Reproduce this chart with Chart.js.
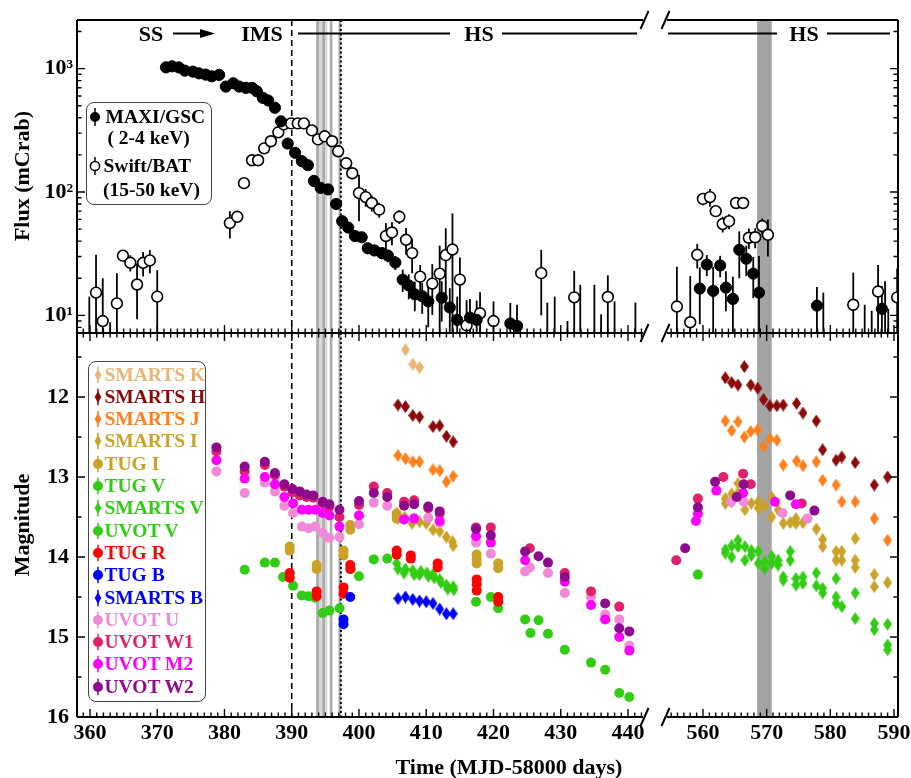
<!DOCTYPE html>
<html>
<head>
<meta charset="utf-8">
<title>X-ray flux and optical/UV magnitudes</title>
<script src="https://cdn.jsdelivr.net/npm/chart.js@4.4.1/dist/chart.umd.min.js"></script>
<style>
  html, body { margin: 0; padding: 0; background: #fff; }
  #wrap { position: relative; width: 911px; height: 778px; overflow: hidden;
    font-family: "Liberation Serif", "Times New Roman", serif; font-weight: bold; color: #000; }
  #wrap canvas { position: absolute; }
  .ttl { position: absolute; font-size: 22px; white-space: nowrap; line-height: 1; }
  .legend { position: absolute; box-sizing: border-box; border: 1.5px solid #444; border-radius: 8px; background: #fff; }
  .row { position: absolute; white-space: nowrap; font-size: 19.5px; line-height: 22px; height: 22px; }
  .mk { position: absolute; }
</style>
</head>
<body>
<div id="wrap">
  <canvas id="topLeft" width="655" height="333" style="left:0;top:0"></canvas>
  <canvas id="topRight" width="256" height="333" style="left:655px;top:0"></canvas>
  <canvas id="botLeft" width="655" height="445" style="left:0;top:333px"></canvas>
  <canvas id="botRight" width="256" height="445" style="left:655px;top:333px"></canvas>

  <svg width="911" height="778" style="position:absolute;left:0;top:0">
    <g font-family="Liberation Serif, Times New Roman, serif" font-weight="bold" font-size="22" text-anchor="middle">
      <text x="151" y="41">SS</text>
      <text x="262" y="41">IMS</text>
      <text x="479" y="41">HS</text>
      <text x="804" y="41">HS</text>
    </g>
    <g stroke="#000" stroke-width="2">
      <line x1="173" y1="33.5" x2="203" y2="33.5"/>
      <line x1="298" y1="33.5" x2="450" y2="33.5"/>
      <line x1="502" y1="33.5" x2="637" y2="33.5"/>
      <line x1="668" y1="33.5" x2="777" y2="33.5"/>
      <line x1="827" y1="33.5" x2="890" y2="33.5"/>
    </g>
    <polygon points="215,33.5 200,29 200,38" fill="#000"/>
  </svg>

  <div class="ttl" style="left:22px;top:176px;transform:translate(-50%,-50%) rotate(-90deg)">Flux (mCrab)</div>
  <div class="ttl" style="left:22px;top:525px;transform:translate(-50%,-50%) rotate(-90deg)">Magnitude</div>
  <div class="ttl" style="left:509px;top:767px;transform:translate(-50%,-50%)">Time (MJD-58000 days)</div>

  <div class="legend" id="legTop" style="left:86px;top:102px;width:126px;height:103px"></div>
  <div class="legend" id="legBot" style="left:88px;top:361px;width:118px;height:341px"></div>
</div>

<script>
// ---------- axis ranges (MJD-58000) ----------
const xLeft = [358.07, 442.23];
const xRight = [554.35, 590.63];
const fluxRange = [7.2, 2480];
const magRange = [11.2, 16];

// ---------- state markers ----------
const dashedDay = 390;
const dottedDay = 397.3;
const lightBand = [393.6, 395.3];
const grayLineDays = [393.85, 394.75, 395.85, 397.15];
const darkBand = [568.5, 570.8];

// ---------- MAXI/GSC 2-4 keV (mCrab) ----------
// the last entries sit below the axis; only their error bars show
const maxiDays = [371.3, 372.2, 373.2, 374.1, 375.3, 376.2, 377.2, 378.1, 379.2, 380.2,
  381.3, 382.2, 383.2, 384.1, 384.8, 385.7, 386.5, 387.5, 388.4, 389.4,
  390.5, 391.5, 392.4, 393.3, 394.3, 395.4, 396.6, 397.5, 398.4, 399.4,
  400.4, 401.3, 402.3, 403.4, 404.3, 405.4, 406.5, 407.4, 408.3, 409.4,
  410.3, 412.3, 413.5, 414.6, 416.5, 417.5, 422.5, 423.5,
  559.5, 560.6, 561.6, 562.7, 563.6, 564.7, 565.7, 566.8, 567.9, 568.8, 577.9, 588.1,
  359.9, 363.0, 428.0, 429.1, 431.0, 432.9, 435.0, 436.0, 438.0, 441.1,
  578.9, 585.4, 586.5, 588.6, 589.1];
const maxiFlux = [1024, 1044, 1024, 964, 946, 916, 895, 867, 890, 716,
  761, 716, 699, 699, 656, 580, 552, 482, 374, 247,
  208, 178, 165, 123, 108, 105, 80, 58, 51.5, 44,
  43, 35, 33.6, 32, 30.5, 26.8, 19.5, 17.5, 14.8, 14.3,
  13.0, 13.9, 11.6, 9.2, 9.6, 9.2, 8.6, 8.2,
  16.5, 25.8, 15.8, 25.4, 16.8, 13.6, 34, 28.8, 21.8, 15.3, 12.0, 11.3,
  4, 4, 4, 4, 4, 4, 4, 4, 4, 4,
  4, 4, 4, 4, 4];
const maxiErr = [15, 15, 15, 14, 14, 14, 13, 13, 13, 12,
  12, 12, 11, 11, 11, 10, 10, 9, 8, 7,
  6, 6, 6, 5, 5, 5, 4, 4, 3.5, 3,
  3, 3, 3, 3.5, 3.5, 3.5, 4, 4, 4, 4,
  5, 5, 5, 5, 4, 4, 4, 4,
  8, 5, 9, 5, 6, 7, 14, 8, 8, 15, 5, 6,
  10.2, 4.8, 8.7, 10.2, 5, 13.7, 13.7, 6.2, 9, 8.7,
  11.3, 8.2, 6.9, 14.9, 7.3];

// ---------- Swift/BAT 15-50 keV (mCrab) ----------
const batDays = [360.9, 361.9, 364.0, 364.9, 366.0, 367.0, 367.9, 368.9, 370.0,
  380.8, 381.9, 382.9, 384.1, 385.0, 385.9, 386.9, 388.0, 388.8, 389.9,
  390.9, 391.8, 393.0, 393.9, 394.9, 396.0, 396.9, 398.1, 399.0, 400.0,
  401.0, 401.9, 403.0, 404.0, 404.9, 406.0, 407.0, 407.9, 409.1, 410.9,
  412.0, 412.9, 413.9, 415.0, 416.0, 418.0, 420.0, 427.1, 432.0, 437.0,
  555.9, 558.0, 559.1, 560.0, 561.1, 562.0, 563.1, 564.1, 565.2, 566.3,
  567.2, 568.2, 569.3, 570.2, 583.6, 587.5, 590.5];
const batFlux = [15.3, 9.0, 12.5, 30.5, 26.7, 17.8, 26.7, 27.9, 14.2,
  56, 63, 118, 181, 181, 226, 258, 305, 353, 360,
  360, 360, 316, 267, 283, 258, 214, 171, 142, 98,
  91, 81.5, 72, 44, 47, 63, 41, 32, 20.6, 18.1,
  21.8, 30.8, 34.2, 19.5, 8.3, 10.4, 9.0, 22, 14.0, 14.1,
  11.8, 8.8, 31, 88, 91, 70, 55, 58, 81.5, 81.5,
  42.6, 43, 53, 45, 12.2, 15.6, 14.0];
const batErr = [15.7, 11, 9.5, 3, 4, 8.5, 6, 6, 9,
  14, 6, 5, 6, 6, 7, 7, 8, 8, 8,
  8, 8, 8, 8, 8, 8, 12, 10, 15, 40,
  15, 12, 10, 12, 10, 8, 10, 10, 5, 8,
  15, 20, 33, 10, 5, 5, 4, 12, 9, 7,
  13, 12, 7, 10, 15, 5, 8, 8, 6, 5,
  8, 8, 8, 15, 10, 10, 10];

// ---------- optical / UV magnitudes, [day, mag] ----------
const smartsK = [[406.9, 11.41], [408.0, 11.59], [409.0, 11.63]];
const smartsH = [[405.8, 12.10], [406.9, 12.12], [408.0, 12.23], [409.0, 12.25], [411.0, 12.37],
  [412.0, 12.36], [413.0, 12.49], [414.0, 12.56],
  [563.5, 11.76], [564.5, 11.82], [565.5, 11.85], [566.5, 11.62], [567.5, 11.85], [568.6, 11.89],
  [569.5, 12.03], [570.5, 12.11], [571.6, 12.11], [572.6, 12.10], [574.7, 12.08], [575.7, 12.20],
  [577.8, 12.30], [578.8, 12.66], [580.9, 12.79], [581.8, 12.75], [583.9, 12.82], [586.9, 13.10],
  [589.0, 13.00]];
const smartsJ = [[405.8, 12.73], [406.9, 12.77], [408.0, 12.81], [409.0, 12.81], [411.0, 12.91],
  [412.0, 12.92], [413.0, 13.06], [414.0, 12.99],
  [563.5, 12.30], [564.5, 12.42], [565.5, 12.31], [566.5, 12.50], [567.5, 12.43], [568.6, 12.41],
  [569.5, 12.62], [570.5, 12.52], [571.6, 12.54], [572.6, 12.85], [574.7, 12.80], [575.7, 12.86],
  [577.8, 12.81], [578.8, 13.04], [580.9, 13.10], [581.8, 13.31], [583.9, 13.31], [586.9, 13.52],
  [589.0, 13.79]];
const smartsI = [[405.6, 13.45], [405.8, 13.52], [406.8, 13.50], [407.9, 13.58], [409.0, 13.56],
  [410.0, 13.58], [411.0, 13.66], [412.0, 13.68], [413.0, 13.75], [413.9, 13.81], [414.0, 13.86],
  [563.5, 13.27], [563.5, 13.33], [564.5, 13.21], [564.5, 13.31], [565.5, 13.08], [565.5, 13.20],
  [566.6, 13.41], [567.6, 13.33], [568.7, 13.31], [568.7, 13.39], [569.7, 13.36], [570.8, 13.25],
  [570.8, 13.50], [571.8, 13.41], [572.6, 13.58], [573.7, 13.57], [574.6, 13.52], [574.6, 13.58],
  [575.7, 13.57], [577.8, 13.65], [578.8, 13.78], [578.8, 13.87], [580.9, 13.93], [580.9, 14.04],
  [581.8, 13.93], [581.8, 14.04], [583.9, 13.77], [583.9, 14.04], [583.9, 14.13], [586.9, 14.22],
  [586.9, 14.37], [589.0, 14.32]];
const tugI = [[389.7, 13.87], [389.7, 13.92], [393.7, 14.10], [393.7, 14.15], [397.7, 13.92],
  [397.7, 13.98], [398.7, 13.60], [398.7, 13.66], [405.6, 13.46], [405.6, 13.52], [417.5, 13.97],
  [417.5, 14.03], [417.5, 14.08], [420.7, 14.08], [420.7, 14.14]];
const tugV = [[398.8, 14.15], [417.4, 14.56], [420.7, 14.64]];
const smartsV = [[405.6, 14.08], [405.8, 14.15], [406.7, 14.20], [406.9, 14.15], [408.0, 14.17],
  [408.2, 14.22], [409.0, 14.22], [409.2, 14.18], [410.1, 14.20], [410.3, 14.24], [411.0, 14.22],
  [411.2, 14.26], [412.0, 14.28], [412.2, 14.32], [413.0, 14.35], [413.2, 14.40], [414.0, 14.37],
  [414.1, 14.41],
  [563.5, 13.91], [563.5, 13.95], [564.5, 13.86], [564.5, 14.00], [565.5, 13.79], [565.5, 13.87],
  [566.6, 13.87], [566.6, 14.04], [567.6, 13.92], [567.6, 13.98], [568.7, 13.93], [568.7, 14.08],
  [569.7, 14.06], [569.7, 14.14], [570.8, 13.99], [570.8, 14.08], [571.8, 14.04], [571.8, 14.10],
  [572.6, 14.25], [572.6, 14.29], [573.7, 13.93], [573.7, 14.04], [574.6, 14.27], [574.6, 14.35],
  [575.7, 14.25], [575.7, 14.33], [577.8, 14.20], [577.8, 14.36], [578.8, 14.39], [578.8, 14.45],
  [580.9, 14.27], [580.9, 14.50], [580.9, 14.58], [581.8, 14.62], [583.9, 14.45], [583.9, 14.77],
  [586.9, 14.83], [586.9, 14.91], [589.0, 14.84], [589.0, 15.10], [589.0, 15.16]];
const uvotV = [[383.0, 14.16], [386.0, 14.07], [387.5, 14.07], [388.7, 14.25], [390.2, 14.36],
  [391.5, 14.48], [392.5, 14.49], [393.5, 14.51], [394.6, 14.70], [395.6, 14.67], [397.1, 14.64],
  [400.0, 14.24], [402.2, 14.03], [404.2, 14.02], [419.6, 14.50], [424.7, 14.78], [425.5, 14.95],
  [426.7, 14.79], [428.1, 14.96], [430.6, 15.16], [434.5, 15.32], [436.6, 15.41], [438.7, 15.70],
  [440.2, 15.75], [559.2, 14.22]];
const tugR = [[389.7, 14.20], [389.7, 14.26], [393.7, 14.43], [393.7, 14.49], [397.7, 14.38],
  [397.7, 14.46], [398.7, 14.10], [398.7, 14.15], [405.6, 13.92], [405.6, 13.97], [407.7, 13.98],
  [407.7, 14.02], [411.7, 14.08], [411.7, 14.13], [417.5, 14.28], [417.5, 14.34], [417.5, 14.42],
  [420.7, 14.50], [420.7, 14.56]];
const tugB = [[397.7, 14.78], [397.7, 14.84], [398.7, 14.50]];
const smartsB = [[405.8, 14.52], [406.9, 14.50], [408.0, 14.53], [409.0, 14.55], [410.0, 14.56],
  [411.0, 14.58], [412.0, 14.65], [413.0, 14.71], [414.0, 14.71]];
const uvotU = [[378.8, 12.93], [383.0, 13.20], [386.0, 13.07], [387.5, 13.18], [388.9, 13.36],
  [390.2, 13.45], [391.5, 13.62], [392.5, 13.64], [393.5, 13.62], [394.6, 13.70], [395.6, 13.76],
  [397.1, 13.75], [400.0, 13.59], [402.2, 13.32], [404.2, 13.36], [406.7, 13.53], [408.2, 13.52],
  [410.3, 13.51], [412.0, 13.57], [417.4, 13.82], [419.6, 13.96], [424.7, 14.18], [425.4, 14.13],
  [428.1, 14.20], [430.6, 14.45], [434.5, 14.50], [436.6, 14.72], [438.7, 14.78], [440.2, 15.11],
  [564.4, 13.31], [566.4, 13.31], [572.5, 13.45], [576.4, 13.52]];
const uvotW1 = [[378.8, 12.68], [383.0, 12.93], [386.0, 12.85], [387.5, 12.98], [388.9, 13.12],
  [390.1, 13.19], [391.2, 13.23], [392.2, 13.25], [393.2, 13.26], [394.6, 13.33], [395.6, 13.37],
  [397.1, 13.50], [400.0, 13.35], [402.2, 13.12], [404.2, 13.20], [406.7, 13.31], [408.2, 13.29],
  [410.3, 13.39], [412.0, 13.46], [417.4, 13.63], [419.6, 13.63], [425.4, 13.89], [430.6, 14.20],
  [434.5, 14.43], [438.7, 14.62],
  [555.8, 14.04], [559.2, 13.27], [563.2, 13.00], [566.3, 12.96], [567.5, 13.09], [575.5, 13.33]];
const uvotM2 = [[378.8, 12.79], [383.0, 13.02], [386.0, 13.00], [387.5, 13.09], [388.9, 13.25],
  [390.2, 13.33], [391.5, 13.41], [392.5, 13.41], [393.5, 13.41], [394.6, 13.45], [395.6, 13.48],
  [397.1, 13.62], [400.0, 13.48], [406.7, 13.53], [408.2, 13.52], [412.0, 13.55], [417.4, 13.74],
  [419.6, 13.82], [424.7, 14.04], [430.6, 14.31], [434.5, 14.60], [436.6, 14.78], [438.7, 15.00],
  [440.2, 15.17],
  [558.9, 13.55], [559.2, 13.46], [562.1, 13.17], [566.3, 13.20], [571.3, 13.31], [574.6, 13.34]];
const uvotW2 = [[378.8, 12.63], [383.0, 12.87], [386.0, 12.81], [387.5, 12.95], [388.9, 13.09],
  [390.1, 13.15], [391.2, 13.18], [392.2, 13.22], [393.2, 13.23], [394.6, 13.31], [395.6, 13.34],
  [397.1, 13.41], [400.0, 13.30], [402.2, 13.20], [404.2, 13.25], [406.7, 13.36], [408.2, 13.34],
  [410.3, 13.37], [412.0, 13.43], [417.4, 13.65], [419.6, 13.73], [424.7, 13.93], [426.7, 13.99],
  [428.1, 14.07], [430.6, 14.25], [436.6, 14.58], [438.7, 14.89], [440.2, 14.93],
  [557.2, 13.89], [559.2, 13.38], [561.9, 13.06], [565.3, 13.25], [566.4, 13.09], [573.7, 13.23],
  [577.5, 13.42]];

// ---------- styling ----------
const GREEN = '#33cc14';
const GOLD = '#c9a227';
const magSeries = [
  { label: 'SMARTS K', data: smartsK, color: '#eab574', shape: 'diamond' },
  { label: 'SMARTS H', data: smartsH, color: '#8b0a0a', shape: 'diamond' },
  { label: 'SMARTS J', data: smartsJ, color: '#ff7f1a', shape: 'diamond' },
  { label: 'SMARTS I', data: smartsI, color: GOLD, shape: 'diamond' },
  { label: 'TUG I', data: tugI, color: GOLD, shape: 'circle' },
  { label: 'TUG V', data: tugV, color: GREEN, shape: 'circle' },
  { label: 'SMARTS V', data: smartsV, color: GREEN, shape: 'diamond' },
  { label: 'UVOT V', data: uvotV, color: GREEN, shape: 'circle' },
  { label: 'TUG R', data: tugR, color: '#ff0000', shape: 'circle' },
  { label: 'TUG B', data: tugB, color: '#0000ff', shape: 'circle' },
  { label: 'SMARTS B', data: smartsB, color: '#0000ff', shape: 'diamond' },
  { label: 'UVOT U', data: uvotU, color: '#f08ad8', shape: 'circle' },
  { label: 'UVOT W1', data: uvotW1, color: '#e0206a', shape: 'circle' },
  { label: 'UVOT M2', data: uvotM2, color: '#ff00ff', shape: 'circle' },
  { label: 'UVOT W2', data: uvotW2, color: '#8e0a8e', shape: 'circle' },
];

const tickFont = { family: "'Liberation Serif','Times New Roman',serif", size: 22, weight: 'bold' };
const sup = { 1: '\u00b9', 2: '\u00b2', 3: '\u00b3' };

function diamondImage(color) {
  const c = document.createElement('canvas');
  c.width = 9; c.height = 13;
  const g = c.getContext('2d');
  g.fillStyle = color;
  g.beginPath();
  g.moveTo(4.5, 0); g.lineTo(9, 6.5); g.lineTo(4.5, 13); g.lineTo(0, 6.5);
  g.closePath(); g.fill();
  return c;
}

function xy(days, vals) { return days.map((d, i) => ({ x: d, y: vals[i] })); }

// shaded bands and state lines, behind the points
const markLines = {
  id: 'markLines',
  beforeDatasetsDraw(chart) {
    const { ctx, chartArea: a, scales: { x } } = chart;
    const px = v => x.getPixelForValue(v);
    ctx.save();
    ctx.beginPath(); ctx.rect(a.left, a.top, a.width, a.height); ctx.clip();
    ctx.fillStyle = '#d8d8d8';
    ctx.fillRect(px(lightBand[0]), a.top, px(lightBand[1]) - px(lightBand[0]), a.height);
    ctx.fillStyle = '#a4a4a4';
    ctx.fillRect(px(darkBand[0]), a.top, px(darkBand[1]) - px(darkBand[0]), a.height);
    ctx.strokeStyle = '#ababab'; ctx.lineWidth = 2.6;
    grayLineDays.forEach(d => {
      ctx.beginPath(); ctx.moveTo(px(d), a.top); ctx.lineTo(px(d), a.bottom); ctx.stroke();
    });
    ctx.strokeStyle = '#000'; ctx.lineWidth = 1.6;
    ctx.setLineDash([6, 4]);
    ctx.beginPath(); ctx.moveTo(px(dashedDay), a.top); ctx.lineTo(px(dashedDay), a.bottom); ctx.stroke();
    ctx.lineWidth = 2; ctx.setLineDash([2, 2.5]);
    ctx.beginPath(); ctx.moveTo(px(dottedDay), a.top); ctx.lineTo(px(dottedDay), a.bottom); ctx.stroke();
    ctx.restore();
  }
};

// vertical error bars for datasets carrying an errs array
const errorBars = {
  id: 'errorBars',
  beforeDatasetsDraw(chart) {
    const { ctx, chartArea: a, scales: { x, y } } = chart;
    ctx.save();
    ctx.beginPath(); ctx.rect(a.left, a.top, a.width, a.height); ctx.clip();
    ctx.strokeStyle = '#000'; ctx.lineWidth = 1.8;
    chart.data.datasets.forEach(ds => {
      if (!ds.errs) return;
      ds.data.forEach((p, i) => {
        const e = ds.errs[i];
        const px = x.getPixelForValue(p.x);
        const lo = p.y - e;
        const y1 = lo > 0 ? y.getPixelForValue(lo) : a.bottom + 20;
        const y2 = y.getPixelForValue(p.y + e);
        ctx.beginPath(); ctx.moveTo(px, y1); ctx.lineTo(px, y2); ctx.stroke();
      });
    });
    ctx.restore();
  }
};

// box, inward ticks and axis-break marks
const frame = {
  id: 'frame',
  afterDraw(chart, args, o) {
    const { ctx, chartArea: a, scales: { x, y } } = chart;
    const xt = [], yt = [];
    for (let v = Math.ceil(x.min); v <= x.max; v++) xt.push([x.getPixelForValue(v), v % 10 === 0]);
    if (y.type === 'logarithmic') {
      for (let k = 0; k < 4; k++) for (let m = 1; m < 10; m++) {
        const v = m * Math.pow(10, k);
        if (v >= y.min && v <= y.max) yt.push([y.getPixelForValue(v), m === 1]);
      }
    } else {
      for (let v = Math.ceil(y.min * 2) / 2; v <= y.max + 1e-9; v += 0.5) yt.push([y.getPixelForValue(v), Number.isInteger(v)]);
    }
    const L = 8, S = 4.5;
    ctx.save();
    ctx.strokeStyle = '#000';
    ctx.lineWidth = 1.4;
    ctx.beginPath();
    o.ticks.forEach(side => {
      if (side === 'bottom') xt.forEach(([p, M]) => { ctx.moveTo(p, a.bottom); ctx.lineTo(p, a.bottom - (M ? L : S)); });
      if (side === 'top') xt.forEach(([p, M]) => { ctx.moveTo(p, a.top); ctx.lineTo(p, a.top + (M ? L : S)); });
      if (side === 'left') yt.forEach(([p, M]) => { ctx.moveTo(a.left, p); ctx.lineTo(a.left + (M ? L : S), p); });
      if (side === 'right') yt.forEach(([p, M]) => { ctx.moveTo(a.right, p); ctx.lineTo(a.right - (M ? L : S), p); });
    });
    ctx.stroke();
    ctx.lineWidth = 2;
    ctx.beginPath();
    ctx.moveTo(a.left, a.top); ctx.lineTo(a.right, a.top);
    ctx.moveTo(a.left, a.bottom); ctx.lineTo(a.right, a.bottom);
    if (o.brk === 'right') { ctx.moveTo(a.left, a.top); ctx.lineTo(a.left, a.bottom); }
    else { ctx.moveTo(a.right, a.top); ctx.lineTo(a.right, a.bottom); }
    const bx = o.brk === 'right' ? a.right + 1.5 : a.left - 1.5;
    [a.top, a.bottom].forEach(cy => { ctx.moveTo(bx - 4, cy + 9); ctx.lineTo(bx + 4, cy - 9); });
    ctx.stroke();
    ctx.restore();
  }
};

function powerLabel(v) {
  const e = Math.log10(v), r = Math.round(e);
  return Math.abs(e - r) < 1e-6 && sup[r] ? '10' + sup[r] : '';
}

function buildChart(id, side, panel, datasets) {
  const isLeft = side === 'left';
  const isTop = panel === 'top';
  const yScale = isTop
    ? { type: 'logarithmic', min: fluxRange[0], max: fluxRange[1],
        ticks: { autoSkip: false, padding: 4, callback: powerLabel } }
    : { type: 'linear', reverse: true, min: magRange[0], max: magRange[1],
        ticks: { stepSize: 0.5, autoSkip: false, includeBounds: false, padding: 8,
                 callback: v => (Number.isInteger(v) ? String(v) : '') } };
  Object.assign(yScale, {
    display: isLeft,
    grid: { display: false, drawTicks: false },
    border: { display: false },
    afterFit: s => { if (s.options.display) s.width = 77; s.paddingTop = 0; s.paddingBottom = 0; }
  });
  Object.assign(yScale.ticks, { font: tickFont, color: '#000' });

  const range = isLeft ? xLeft : xRight;
  const xScale = {
    type: 'linear', min: range[0], max: range[1], display: !isTop,
    grid: { display: false, drawTicks: false },
    border: { display: false },
    ticks: { stepSize: 1, autoSkip: false, includeBounds: false, maxRotation: 0, minRotation: 0,
             padding: 3, font: tickFont, color: '#000',
             callback: v => (v % 10 === 0 ? String(v) : '') },
    afterFit: s => { if (s.options.display) s.height = 61; s.paddingLeft = 0; s.paddingRight = 0; }
  };

  return new Chart(document.getElementById(id), {
    type: 'scatter',
    data: { datasets },
    options: {
      responsive: false, animation: false, devicePixelRatio: 1, events: [],
      layout: { autoPadding: false,
        padding: { left: isLeft ? 0 : 12, right: isLeft ? 12 : 13, top: isTop ? 20 : 0, bottom: 0 } },
      scales: { x: xScale, y: yScale },
      plugins: {
        legend: { display: false }, tooltip: { enabled: false },
        frame: { brk: isLeft ? 'right' : 'left',
                 ticks: isTop ? [isLeft ? 'left' : 'right', 'bottom'] : [isLeft ? 'left' : 'right', 'top', 'bottom'] }
      }
    },
    plugins: [markLines, errorBars, frame]
  });
}

function fluxSets() {
  return [
    { label: 'MAXI/GSC', data: xy(maxiDays, maxiFlux), errs: maxiErr, order: 0, clip: 0,
      pointStyle: 'circle', pointRadius: 5.6, backgroundColor: '#000', borderColor: '#000', borderWidth: 1 },
    { label: 'Swift/BAT', data: xy(batDays, batFlux), errs: batErr, order: 1, clip: 0,
      pointStyle: 'circle', pointRadius: 5.4, backgroundColor: '#fff', borderColor: '#000', borderWidth: 1.6 },
  ];
}

function magSets() {
  return magSeries.map((s, i) => ({
    label: s.label,
    data: s.data.map(p => ({ x: p[0], y: p[1] })),
    order: -i, clip: 0,
    pointStyle: s.shape === 'diamond' ? diamondImage(s.color) : 'circle',
    pointRadius: 5, borderWidth: 0,
    backgroundColor: s.color, borderColor: s.color,
  }));
}

buildChart('topLeft', 'left', 'top', fluxSets());
buildChart('topRight', 'right', 'top', fluxSets());
buildChart('botLeft', 'left', 'bottom', magSets());
buildChart('botRight', 'right', 'bottom', magSets());

// ---------- legends ----------
function marker(shape, color, open, h) {
  const c = h / 2;
  const line = `<line x1="6" y1="${c - h * 0.38}" x2="6" y2="${c + h * 0.38}" stroke="${open ? '#000' : color}" stroke-width="1.5"/>`;
  const m = shape === 'diamond'
    ? `<polygon points="6,${c - 6} 9.3,${c} 6,${c + 6} 2.7,${c}" fill="${color}"/>`
    : `<circle cx="6" cy="${c}" r="${open ? 4.6 : 5}" fill="${open ? '#fff' : color}" stroke="${open ? '#000' : color}" stroke-width="${open ? 1.5 : 0}"/>`;
  return `<svg class="mk" width="12" height="${h}" viewBox="0 0 12 ${h}">${line}${m}</svg>`;
}

const legTop = document.getElementById('legTop');
legTop.innerHTML =
  `<div style="position:absolute;left:1.5px;top:${13.5 - 12}px">${marker('circle', '#000', false, 24)}</div>` +
  `<div class="row" style="left:18.5px;top:${13.5 - 11}px">MAXI/GSC</div>` +
  `<div class="row" style="left:20.5px;top:${35 - 11}px">( 2-4 keV)</div>` +
  `<div style="position:absolute;left:1.5px;top:${62.5 - 12}px">${marker('circle', '#000', true, 24)}</div>` +
  `<div class="row" style="left:16.5px;top:${62.5 - 11}px">Swift/BAT</div>` +
  `<div class="row" style="left:16px;top:${87 - 11}px">(15-50 keV)</div>`;

const legBot = document.getElementById('legBot');
legBot.innerHTML = magSeries.map((s, i) => {
  const cy = 12.5 + 22.3 * i;
  return `<div style="position:absolute;left:2.5px;top:${cy - 11}px">${marker(s.shape, s.color, false, 22)}</div>` +
         `<div class="row" style="left:15.5px;top:${cy - 11}px;color:${s.color}">${s.label}</div>`;
}).join('');
</script>
</body>
</html>
